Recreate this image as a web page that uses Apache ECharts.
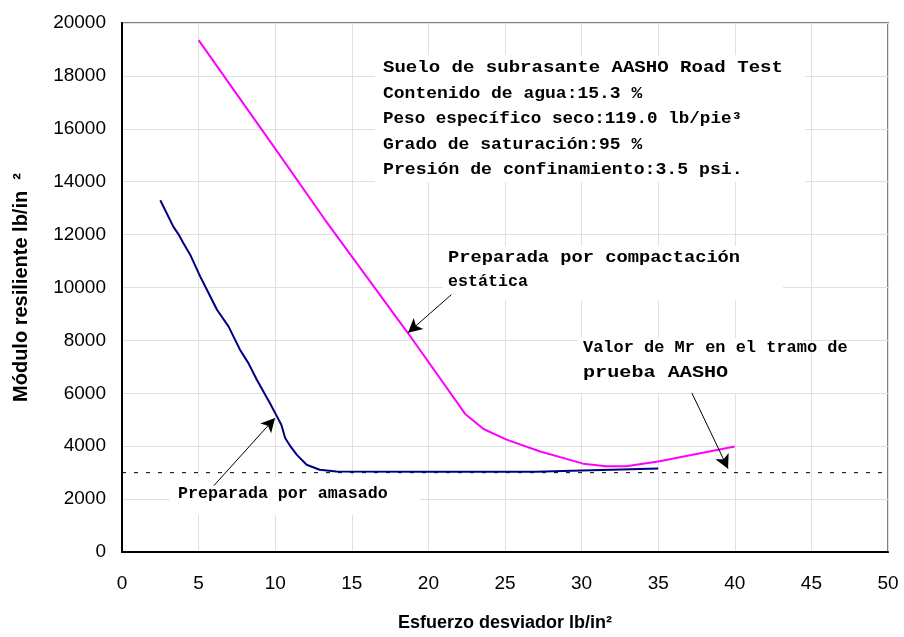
<!DOCTYPE html>
<html>
<head>
<meta charset="utf-8">
<script src="https://cdn.jsdelivr.net/npm/echarts@6/dist/echarts.min.js"></script>
<style>html,body{margin:0;padding:0;background:#fff}#c{width:904px;height:637px}</style>
</head>
<body>
<div id="c"></div>
<script>
// ---- data ----
const compactX = [5, 10, 13.25, 18.7, 22.4, 23.6, 25.1, 27.3, 30.1, 31.6, 32.9, 35, 40];
const compactY = [19350, 15250, 12560, 8250, 5220, 4650, 4250, 3800, 3340, 3240, 3240, 3420, 3990];
const amasadoX = [2.5, 3.35, 3.7, 4.0, 4.45, 5.1, 5.65, 6.2, 6.95, 7.7, 8.25, 8.8, 9.65, 10.0, 10.4, 10.65, 11.0, 11.4, 12.05, 12.9, 14, 20, 27, 30, 32, 35];
const amasadoY = [13300, 12300, 12000, 11680, 11240, 10420, 9790, 9160, 8530, 7650, 7140, 6510, 5630, 5250, 4810, 4310, 3990, 3680, 3300, 3110, 3040, 3030, 3030, 3080, 3110, 3160];
const refX = [0, 50];
const refY = [3000, 3000];
const xTicks = [0, 5, 10, 15, 20, 25, 30, 35, 40, 45, 50];
const yTicks = [0, 2000, 4000, 6000, 8000, 10000, 12000, 14000, 16000, 18000, 20000];
// arrows: [fromX, fromY, toX, toY]
const arrowCompact = [21.5, 9730, 18.67, 8290];
const arrowMr = [37.2, 6010, 39.56, 3150];
const arrowAmasado = [6.0, 2510, 9.99, 5070];

const infoLines = [
  'Suelo de subrasante AASHO Road Test',
  'Contenido de agua:15.3 %',
  'Peso específico seco:119.0 lb/pie³',
  'Grado de saturación:95 %',
  'Presión de confinamiento:3.5 psi.'
];
const labelCompact = ['Preparada por compactación', 'estática'];
const labelMr = ['Valor de Mr en el tramo de', 'prueba AASHO'];
const labelAmasado = ['Preparada por amasado'];

const zip = (xs, ys) => xs.map((x, i) => [x, ys[i]]);
const monoFont = 'bold 16px "Liberation Mono", "DejaVu Sans Mono", monospace';

function textLines(lines, x, yCenter0, lh, scales) {
  return lines.map((t, i) => ({
    type: 'text', x: x, y: yCenter0 + i * lh, scaleX: scales[i], z: 10,
    style: { text: t, font: monoFont, fill: '#000', textAlign: 'left', textVerticalAlign: 'middle' }
  }));
}
function bgRect(x, y, w, h) {
  return { type: 'rect', shape: { x: x, y: y, width: w, height: h }, style: { fill: '#fff' }, z: 1, silent: true };
}
function arrow(a) {
  return [{ coord: [a[0], a[1]] }, { coord: [a[2], a[3]] }];
}

const chart = echarts.init(document.getElementById('c'), null, { renderer: 'canvas' });
chart.setOption({
  animation: false,
  backgroundColor: '#fff',
  grid: { left: 122, right: 16, top: 23, bottom: 85, show: true, borderColor: '#808080', borderWidth: 2, backgroundColor: 'transparent' },
  xAxis: {
    type: 'value', min: xTicks[0], max: xTicks[xTicks.length - 1], interval: 5,
    axisLine: { show: true, onZero: false, lineStyle: { color: '#000', width: 2 } },
    axisTick: { show: false },
    splitLine: { show: true, lineStyle: { color: '#e0e0e0', width: 1 } },
    axisLabel: { color: '#000', fontSize: 19, fontFamily: '"Liberation Sans", Arial, sans-serif', margin: 22, formatter: v => String(v) },
    name: 'Esfuerzo desviador lb/in²', nameLocation: 'middle', nameGap: 62,
    nameTextStyle: { color: '#000', fontSize: 18, fontWeight: 'bold', fontFamily: '"Liberation Sans", Arial, sans-serif' }
  },
  yAxis: {
    type: 'value', min: yTicks[0], max: yTicks[yTicks.length - 1], interval: 2000,
    axisLine: { show: true, onZero: false, lineStyle: { color: '#000', width: 2 } },
    axisTick: { show: false },
    splitLine: { show: true, lineStyle: { color: '#e0e0e0', width: 1 } },
    axisLabel: { color: '#000', fontSize: 19, fontFamily: '"Liberation Sans", Arial, sans-serif', margin: 16, formatter: v => String(v) },
    name: 'Módulo resiliente lb/in  ²', nameLocation: 'middle', nameGap: 91,
    nameTextStyle: { color: '#000', fontSize: 20, fontWeight: 'bold', fontFamily: '"Liberation Sans", Arial, sans-serif' }
  },
  series: [
    {
      name: 'ref', type: 'line', data: zip(refX, refY), symbol: 'none', z: 3,
      lineStyle: { color: '#000', width: 1, type: [4, 8] }
    },
    {
      name: 'compactacion', type: 'line', data: zip(compactX, compactY), symbol: 'none', z: 4,
      lineStyle: { color: '#ff00ff', width: 2 }
    },
    {
      name: 'amasado', type: 'line', data: zip(amasadoX, amasadoY), symbol: 'none', z: 4,
      lineStyle: { color: '#000080', width: 2 }
    },
    {
      name: 'arrows', type: 'line', data: [], z: 6,
      markLine: {
        silent: true, animation: false,
        symbol: ['none', 'arrow'], symbolSize: [11, 14],
        label: { show: false },
        lineStyle: { color: '#000', width: 1, type: 'solid' },
        emphasis: { disabled: true },
        data: [arrow(arrowCompact), arrow(arrowMr), arrow(arrowAmasado)]
      }
    }
  ],
  graphic: [
    bgRect(375, 55, 430, 127),
    bgRect(443, 246, 340, 54),
    bgRect(578, 338, 225, 55),
    bgRect(170, 477, 250, 38)
  ].concat(
    textLines(infoLines, 383, 68, 25.5, [1.19, 1.125, 1.10, 1.125, 1.135]),
    textLines(labelCompact, 448, 258, 24, [1.17, 1.04]),
    textLines(labelMr, 583, 348, 25, [1.06, 1.26]),
    textLines(labelAmasado, 178, 494, 24, [1.04])
  )
});
</script>
</body>
</html>
